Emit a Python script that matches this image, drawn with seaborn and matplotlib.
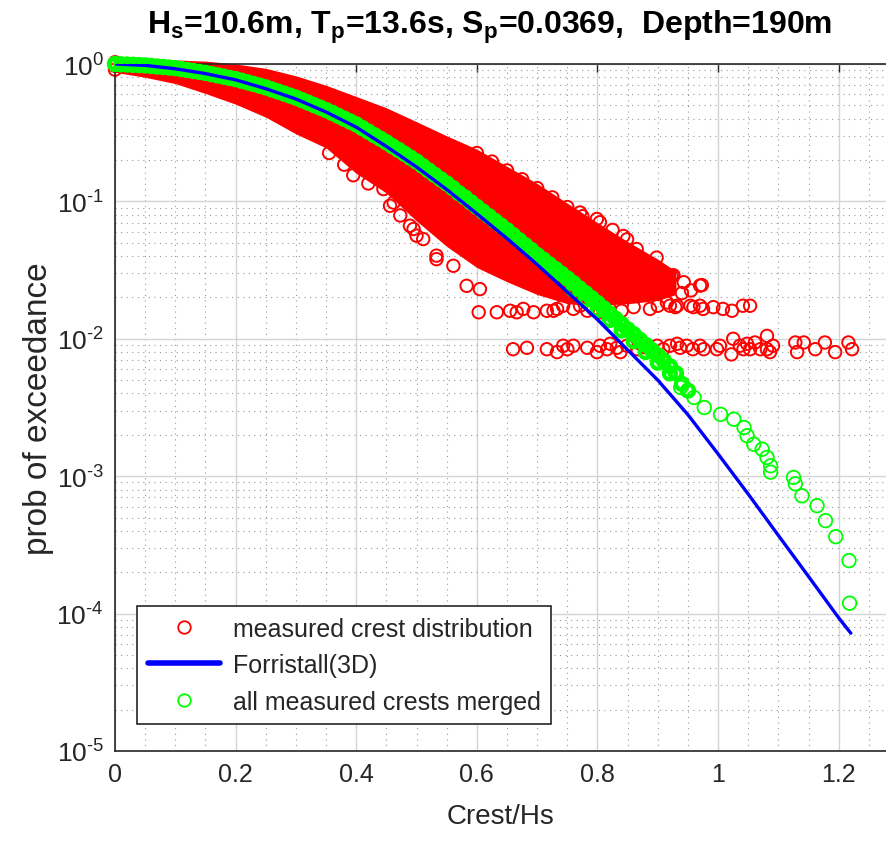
import numpy as np
import pandas as pd
import matplotlib
matplotlib.use("Agg")
import matplotlib.pyplot as plt
from matplotlib.lines import Line2D
from matplotlib.ticker import FixedLocator, LogLocator, MultipleLocator, NullFormatter
import seaborn as sns

sns.set_style("white")
plt.rcParams["font.family"] = ["Liberation Sans", "DejaVu Sans"]
plt.rcParams["mathtext.fontset"] = "custom"
plt.rcParams["mathtext.rm"] = "Liberation Sans"
plt.rcParams["mathtext.it"] = "Liberation Sans:italic"
plt.rcParams["mathtext.bf"] = "Liberation Sans:bold"
plt.rcParams["axes.unicode_minus"] = False

# ---- data ----
# Forristall(3D) curve
blue_x = [0, 0.05, 0.10, 0.15, 0.20, 0.25, 0.30, 0.35, 0.40, 0.45, 0.50, 0.55, 0.60,
          0.65, 0.70, 0.75, 0.80, 0.85, 0.90, 0.95, 1.00, 1.05, 1.10, 1.15, 1.20, 1.22]
blue_y = [1.0, 0.977, 0.923, 0.851, 0.767, 0.661, 0.556, 0.447, 0.347, 0.251, 0.178,
          0.122, 0.0813, 0.0537, 0.0347, 0.0219, 0.0138, 0.0083, 0.0050, 0.0028,
          0.00145, 0.00074, 0.00037, 0.000186, 0.000093, 0.000072]

# all measured crests merged (dense part, one value every 0.01 of Crest/Hs)
green_dense_y = [
    1.000, 0.995, 0.991, 0.986, 0.982, 0.977, 0.968, 0.959, 0.951, 0.942,
    0.933, 0.918, 0.904, 0.889, 0.875, 0.861, 0.843, 0.826, 0.809, 0.792,
    0.776, 0.755, 0.735, 0.715, 0.695, 0.676, 0.653, 0.631, 0.610, 0.589,
    0.569, 0.546, 0.524, 0.502, 0.482, 0.462, 0.441, 0.420, 0.400, 0.381,
    0.363, 0.342, 0.322, 0.303, 0.286, 0.269, 0.252, 0.237, 0.222, 0.208,
    0.195, 0.181, 0.168, 0.156, 0.145, 0.135, 0.125, 0.115, 0.107, 0.0986,
    0.0912, 0.0843, 0.0780, 0.0721, 0.0667, 0.0617, 0.0568, 0.0522, 0.0481, 0.0443,
    0.0407, 0.0377, 0.0348, 0.0322, 0.0298, 0.0275, 0.0254, 0.0233, 0.0215, 0.0198,
    0.0182, 0.0167, 0.0153, 0.0140, 0.0128, 0.0117, 0.0108, 0.00986, 0.00904, 0.00828,
    0.00759, 0.00692, 0.00631, 0.00562]
green_dense_x = [round(0.01 * i, 2) for i in range(len(green_dense_y))]

green_spread = [(0.76, 0.0228), (0.78, 0.0192), (0.80, 0.0162), (0.82, 0.0137),
                (0.84, 0.0115), (0.86, 0.0096), (0.88, 0.0080), (0.90, 0.0067),
                (0.92, 0.0056), (0.94, 0.0047), (0.95, 0.0042)]
green_tail = [(0.938, 0.00442), (0.960, 0.00374), (0.977, 0.00316), (1.004, 0.00282),
              (1.026, 0.00260), (1.043, 0.00226), (1.048, 0.00197), (1.059, 0.00171),
              (1.073, 0.00157), (1.081, 0.00137), (1.087, 0.00119), (1.087, 0.00107),
              (1.125, 0.00098), (1.128, 0.00088), (1.139, 0.00072), (1.164, 0.00061),
              (1.178, 0.000475), (1.195, 0.000363), (1.217, 0.000243), (1.218, 0.000119)]

# measured crest distributions: solid core of overlapping circles
core_x = [0, 0.05, 0.10, 0.15, 0.20, 0.25, 0.30, 0.35, 0.40, 0.45, 0.50, 0.55, 0.60,
          0.65, 0.70, 0.75, 0.80, 0.85, 0.90, 0.93]
core_upper = [1.08, 1.08, 1.07, 1.05, 1.00, 0.93, 0.82, 0.70, 0.58, 0.48, 0.38, 0.30,
              0.24, 0.18, 0.135, 0.097, 0.070, 0.051, 0.038, 0.031]
core_lower = [0.87, 0.80, 0.72, 0.61, 0.51, 0.41, 0.31, 0.245, 0.16, 0.115, 0.072, 0.047,
              0.033, 0.026, 0.021, 0.018, 0.0175, 0.018, 0.019, 0.021]

# measured crest distributions: separate circles
red_start = [(0.0, 1.03), (0.0, 0.97), (0.0, 0.91)]
red_upper_edge = [(0.60, 0.225), (0.625, 0.195), (0.65, 0.168), (0.675, 0.145),
                  (0.70, 0.125), (0.725, 0.107), (0.75, 0.091), (0.775, 0.078)]
red_lower_edge = [(0.355, 0.225), (0.38, 0.185), (0.395, 0.155), (0.42, 0.135)]
red_lower_chain = [(0.445, 0.123), (0.456, 0.093), (0.462, 0.098), (0.473, 0.079),
                   (0.489, 0.0665), (0.495, 0.063), (0.500, 0.0563), (0.511, 0.0532),
                   (0.533, 0.0403), (0.533, 0.038), (0.561, 0.034), (0.583, 0.0243),
                   (0.605, 0.023)]
red_row_mid = [(0.603, 0.0156), (0.633, 0.0156), (0.655, 0.0160), (0.666, 0.0156),
               (0.677, 0.0165), (0.694, 0.0156), (0.716, 0.0160), (0.727, 0.0160),
               (0.733, 0.0165), (0.743, 0.0174), (0.760, 0.0165), (0.771, 0.0174),
               (0.783, 0.0160), (0.793, 0.0165), (0.804, 0.0156), (0.820, 0.0165),
               (0.840, 0.0160), (0.860, 0.0170), (0.887, 0.0165), (0.900, 0.0174),
               (0.915, 0.0184), (0.920, 0.0174), (0.929, 0.0170), (0.932, 0.0174),
               (0.954, 0.0174), (0.959, 0.0170), (0.970, 0.0174), (0.975, 0.0165),
               (0.992, 0.0170), (1.008, 0.0165), (1.023, 0.0160), (1.041, 0.0174),
               (1.053, 0.0174)]
red_upper_right = [(0.771, 0.083), (0.799, 0.0745), (0.804, 0.0705), (0.825, 0.062),
                   (0.843, 0.056), (0.849, 0.053), (0.865, 0.045), (0.871, 0.038),
                   (0.882, 0.0305), (0.898, 0.039), (0.904, 0.0272), (0.923, 0.0288),
                   (0.926, 0.029), (0.943, 0.0258), (0.955, 0.0225), (0.970, 0.0244),
                   (0.973, 0.0246), (0.940, 0.0215), (0.910, 0.0232)]
red_row_low = [(0.660, 0.0084), (0.683, 0.0086), (0.716, 0.0084), (0.733, 0.0080),
               (0.743, 0.0089), (0.750, 0.0084), (0.760, 0.0089), (0.783, 0.0086),
               (0.799, 0.0080), (0.804, 0.0089), (0.816, 0.0084), (0.821, 0.0092),
               (0.832, 0.0086), (0.838, 0.0080), (0.849, 0.0089), (0.866, 0.0084),
               (0.871, 0.0092), (0.882, 0.0086), (0.892, 0.0080), (0.899, 0.0089),
               (0.909, 0.0084), (0.920, 0.0089), (0.932, 0.0092), (0.937, 0.0086),
               (0.948, 0.0089), (0.958, 0.0084), (0.970, 0.0089), (0.976, 0.0084),
               (0.998, 0.0084), (1.003, 0.0089), (1.022, 0.0077), (1.025, 0.0100),
               (1.036, 0.0089), (1.042, 0.0084), (1.048, 0.0092), (1.053, 0.0084),
               (1.061, 0.0094), (1.070, 0.0084), (1.081, 0.0105), (1.081, 0.0084),
               (1.086, 0.0080), (1.091, 0.0089), (1.128, 0.0094), (1.131, 0.0080),
               (1.142, 0.0094), (1.161, 0.0084), (1.177, 0.0094), (1.194, 0.0080),
               (1.216, 0.0094), (1.222, 0.0084)]

xtick_vals = [0, 0.2, 0.4, 0.6, 0.8, 1.0, 1.2]
xtick_labels = ["0", "0.2", "0.4", "0.6", "0.8", "1", "1.2"]
ytick_vals = [1e-5, 1e-4, 1e-3, 1e-2, 1e-1, 1e0]
ytick_labels = [r"$10^{\text{-}5}$", r"$10^{\text{-}4}$", r"$10^{\text{-}3}$",
                r"$10^{\text{-}2}$", r"$10^{\text{-}1}$", r"$10^{0}$"]

red_pts = pd.DataFrame(red_start + red_upper_edge + red_lower_edge + red_lower_chain
                       + red_row_mid + red_upper_right + red_row_low,
                       columns=["crest", "prob"])
green_df = pd.DataFrame({"crest": green_dense_x, "prob": green_dense_y})
green_spread_df = pd.DataFrame(green_spread, columns=["crest", "prob"])
green_tail_df = pd.DataFrame(green_tail, columns=["crest", "prob"])
blue_df = pd.DataFrame({"crest": blue_x, "prob": blue_y})

# ---- figure ----
fig = plt.figure(figsize=(8.87, 8.45), dpi=100)
ax = fig.add_axes([115 / 887, 93 / 845, 772 / 887, 687 / 845])
ax.set_yscale("log")

red = "#ff0000"
green = "#00ff00"
ax.fill_between(core_x, core_lower, core_upper, color=red, lw=0, zorder=2, clip_on=False)
sns.scatterplot(data=red_pts, x="crest", y="prob", ax=ax, marker="o", s=80,
                facecolors="none", edgecolor=red, linewidth=1.4, zorder=2, clip_on=False)
sns.scatterplot(data=green_df, x="crest", y="prob", ax=ax, marker="o", s=70,
                facecolors="none", edgecolor=green, linewidth=3.4, zorder=3, clip_on=False)
sns.scatterplot(data=green_spread_df, x="crest", y="prob", ax=ax, marker="o", s=75,
                facecolors="none", edgecolor=green, linewidth=3.0, zorder=3)
sns.scatterplot(data=green_tail_df, x="crest", y="prob", ax=ax, marker="o", s=95,
                facecolors="none", edgecolor=green, linewidth=1.3, zorder=3)
sns.lineplot(data=blue_df, x="crest", y="prob", ax=ax, color="#0000ff", lw=2.4,
             zorder=4, estimator=None, sort=False)

ax.set_xlim(0, 1.28)
ax.set_ylim(1e-5, 1)

ax.xaxis.set_major_locator(FixedLocator(xtick_vals))
ax.set_xticklabels(xtick_labels)
ax.xaxis.set_minor_locator(MultipleLocator(0.05))
ax.yaxis.set_major_locator(FixedLocator(ytick_vals))
ax.set_yticklabels(ytick_labels)
ax.yaxis.set_minor_locator(LogLocator(base=10, subs=range(2, 10), numticks=20))
ax.yaxis.set_minor_formatter(NullFormatter())

tick_col = "#262626"
ax.tick_params(which="major", direction="in", length=6, width=1.0, colors=tick_col,
               labelsize=18, top=True, pad=8)
ax.tick_params(axis="y", which="major", labelsize=19)
ax.tick_params(axis="y", which="minor", direction="in", length=3, width=0.8,
               colors=tick_col)
ax.tick_params(axis="x", which="minor", length=0)
for side in ["left", "bottom", "top"]:
    ax.spines[side].set_color(tick_col)
    ax.spines[side].set_linewidth(1.2)
ax.spines["right"].set_visible(False)

ax.grid(which="major", color="#d4d4d4", lw=1.0)
ax.grid(which="minor", color="#9a9a9a", lw=0.8, linestyle=(0, (1, 4)))
ax.set_axisbelow(True)

ax.set_xlabel("Crest/Hs", fontsize=20, color=tick_col, labelpad=12)
ax.set_ylabel("prob of exceedance", fontsize=24, color=tick_col, labelpad=2)
fig.text(490 / 887, 1 - 27 / 845,
         r"H$_\mathbf{s}$=10.6m, T$_\mathbf{p}$=13.6s, S$_\mathbf{p}$=0.0369,  Depth=190m",
         ha="center", va="center", fontsize=23, fontweight="bold", color="black")

handles = [
    Line2D([], [], ls="none", marker="o", ms=9, mfc="none", mec=red, mew=1.3),
    Line2D([], [], color="#0000ff", lw=4),
    Line2D([], [], ls="none", marker="o", ms=9, mfc="none", mec=green, mew=1.3),
]
labels = ["measured crest distribution", "Forristall(3D)", "all measured crests merged"]
leg = ax.legend(handles, labels, loc="lower left", bbox_to_anchor=(0.0285, 0.0393),
                borderaxespad=0, fontsize=18, frameon=True, fancybox=False,
                framealpha=1, edgecolor="#262626", handlelength=2.9,
                labelspacing=0.5, borderpad=0.42, handletextpad=0.5)
leg.get_frame().set_linewidth(1.2)
leg.set_zorder(10)

fig.savefig("out.png", dpi=100)
